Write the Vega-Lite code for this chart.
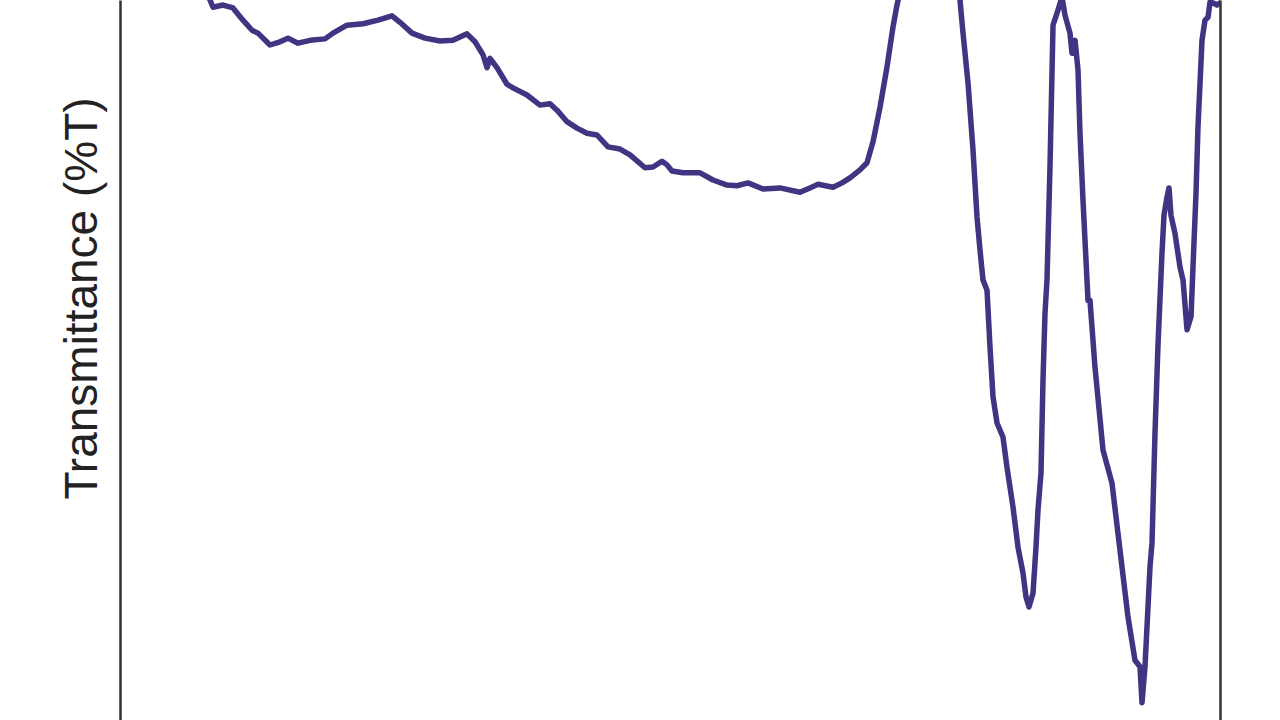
{
  "$schema": "https://vega.github.io/schema/vega-lite/v6.json",
  "width": 1100,
  "height": 720,
  "autosize": {"type": "none"},
  "padding": {"left": 120, "top": 0, "right": 60, "bottom": 0},
  "background": "white",
  "config": {"view": {"stroke": null}},
  "data": {"values": [
    {"wavenumber": 3754.5, "T": 105.6},
    {"wavenumber": 3705.5, "T": 100.0},
    {"wavenumber": 3695.6, "T": 99.0},
    {"wavenumber": 3662.9, "T": 99.3},
    {"wavenumber": 3630.2, "T": 98.9},
    {"wavenumber": 3597.5, "T": 97.2},
    {"wavenumber": 3568.0, "T": 95.8},
    {"wavenumber": 3548.4, "T": 95.4},
    {"wavenumber": 3509.1, "T": 93.75},
    {"wavenumber": 3476.4, "T": 94.2},
    {"wavenumber": 3450.2, "T": 94.7},
    {"wavenumber": 3417.5, "T": 94.0},
    {"wavenumber": 3378.2, "T": 94.4},
    {"wavenumber": 3329.1, "T": 94.6},
    {"wavenumber": 3302.9, "T": 95.4},
    {"wavenumber": 3257.1, "T": 96.5},
    {"wavenumber": 3204.7, "T": 96.7},
    {"wavenumber": 3155.6, "T": 97.2},
    {"wavenumber": 3109.8, "T": 97.8},
    {"wavenumber": 3083.6, "T": 96.9},
    {"wavenumber": 3044.4, "T": 95.4},
    {"wavenumber": 3001.8, "T": 94.7},
    {"wavenumber": 2952.7, "T": 94.3},
    {"wavenumber": 2910.2, "T": 94.4},
    {"wavenumber": 2864.4, "T": 95.3},
    {"wavenumber": 2838.2, "T": 94.2},
    {"wavenumber": 2812.0, "T": 92.4},
    {"wavenumber": 2798.9, "T": 90.6},
    {"wavenumber": 2789.1, "T": 91.9},
    {"wavenumber": 2766.2, "T": 90.6},
    {"wavenumber": 2733.5, "T": 88.3},
    {"wavenumber": 2713.8, "T": 87.8},
    {"wavenumber": 2668.0, "T": 86.8},
    {"wavenumber": 2625.5, "T": 85.4},
    {"wavenumber": 2592.7, "T": 85.6},
    {"wavenumber": 2569.8, "T": 84.7},
    {"wavenumber": 2537.1, "T": 83.1},
    {"wavenumber": 2504.4, "T": 82.2},
    {"wavenumber": 2471.6, "T": 81.5},
    {"wavenumber": 2438.9, "T": 81.25},
    {"wavenumber": 2402.9, "T": 79.6},
    {"wavenumber": 2363.6, "T": 79.3},
    {"wavenumber": 2330.9, "T": 78.5},
    {"wavenumber": 2281.8, "T": 76.7},
    {"wavenumber": 2255.6, "T": 76.8},
    {"wavenumber": 2226.2, "T": 77.6},
    {"wavenumber": 2209.8, "T": 77.1},
    {"wavenumber": 2193.5, "T": 76.25},
    {"wavenumber": 2157.5, "T": 76.0},
    {"wavenumber": 2101.8, "T": 76.0},
    {"wavenumber": 2059.3, "T": 75.0},
    {"wavenumber": 2013.5, "T": 74.3},
    {"wavenumber": 1980.7, "T": 74.2},
    {"wavenumber": 1944.7, "T": 74.6},
    {"wavenumber": 1895.6, "T": 73.75},
    {"wavenumber": 1840.0, "T": 73.9},
    {"wavenumber": 1774.5, "T": 73.3},
    {"wavenumber": 1741.8, "T": 73.9},
    {"wavenumber": 1715.6, "T": 74.4},
    {"wavenumber": 1666.5, "T": 74.0},
    {"wavenumber": 1637.1, "T": 74.6},
    {"wavenumber": 1610.9, "T": 75.3},
    {"wavenumber": 1578.2, "T": 76.4},
    {"wavenumber": 1555.3, "T": 77.4},
    {"wavenumber": 1535.6, "T": 80.3},
    {"wavenumber": 1512.7, "T": 85.1},
    {"wavenumber": 1489.8, "T": 90.7},
    {"wavenumber": 1470.2, "T": 96.25},
    {"wavenumber": 1457.1, "T": 99.3},
    {"wavenumber": 1430.9, "T": 104.2},
    {"wavenumber": 1267.3, "T": 104.2},
    {"wavenumber": 1250.9, "T": 100.0},
    {"wavenumber": 1241.1, "T": 95.4},
    {"wavenumber": 1224.7, "T": 88.5},
    {"wavenumber": 1208.4, "T": 79.2},
    {"wavenumber": 1195.3, "T": 69.9},
    {"wavenumber": 1185.5, "T": 65.3},
    {"wavenumber": 1175.6, "T": 61.1},
    {"wavenumber": 1162.5, "T": 59.7},
    {"wavenumber": 1152.7, "T": 51.8},
    {"wavenumber": 1142.9, "T": 44.9},
    {"wavenumber": 1129.8, "T": 41.25},
    {"wavenumber": 1110.2, "T": 39.3},
    {"wavenumber": 1097.1, "T": 35.1},
    {"wavenumber": 1077.5, "T": 29.6},
    {"wavenumber": 1061.1, "T": 24.0},
    {"wavenumber": 1044.7, "T": 20.4},
    {"wavenumber": 1034.9, "T": 17.1},
    {"wavenumber": 1025.1, "T": 15.7},
    {"wavenumber": 1012.0, "T": 17.6},
    {"wavenumber": 1002.2, "T": 24.0},
    {"wavenumber": 995.6, "T": 29.2},
    {"wavenumber": 985.8, "T": 34.3},
    {"wavenumber": 979.3, "T": 47.2},
    {"wavenumber": 972.7, "T": 56.5},
    {"wavenumber": 966.2, "T": 61.1},
    {"wavenumber": 956.4, "T": 76.8},
    {"wavenumber": 946.5, "T": 96.5},
    {"wavenumber": 930.2, "T": 98.6},
    {"wavenumber": 917.1, "T": 100.4},
    {"wavenumber": 907.3, "T": 97.9},
    {"wavenumber": 890.9, "T": 95.4},
    {"wavenumber": 884.4, "T": 92.6},
    {"wavenumber": 874.5, "T": 94.4},
    {"wavenumber": 864.7, "T": 90.3},
    {"wavenumber": 858.2, "T": 81.5},
    {"wavenumber": 848.4, "T": 72.2},
    {"wavenumber": 832.0, "T": 58.3},
    {"wavenumber": 825.5, "T": 58.3},
    {"wavenumber": 809.1, "T": 49.0},
    {"wavenumber": 782.9, "T": 37.5},
    {"wavenumber": 753.5, "T": 32.9},
    {"wavenumber": 727.3, "T": 23.6},
    {"wavenumber": 701.1, "T": 14.3},
    {"wavenumber": 678.2, "T": 8.3},
    {"wavenumber": 661.8, "T": 7.4},
    {"wavenumber": 655.3, "T": 2.4},
    {"wavenumber": 645.5, "T": 7.4},
    {"wavenumber": 629.1, "T": 21.25},
    {"wavenumber": 622.5, "T": 24.6},
    {"wavenumber": 612.7, "T": 39.9},
    {"wavenumber": 602.9, "T": 52.1},
    {"wavenumber": 589.8, "T": 64.9},
    {"wavenumber": 583.3, "T": 70.1},
    {"wavenumber": 573.5, "T": 72.6},
    {"wavenumber": 566.9, "T": 73.9},
    {"wavenumber": 560.4, "T": 70.1},
    {"wavenumber": 547.3, "T": 67.6},
    {"wavenumber": 530.9, "T": 62.9},
    {"wavenumber": 521.0, "T": 61.1},
    {"wavenumber": 507.9, "T": 54.2},
    {"wavenumber": 494.9, "T": 56.0},
    {"wavenumber": 488.4, "T": 62.9},
    {"wavenumber": 478.5, "T": 73.2},
    {"wavenumber": 472.0, "T": 82.4},
    {"wavenumber": 458.9, "T": 94.4},
    {"wavenumber": 449.1, "T": 97.2},
    {"wavenumber": 439.3, "T": 97.6},
    {"wavenumber": 432.7, "T": 99.7},
    {"wavenumber": 422.9, "T": 99.6},
    {"wavenumber": 409.8, "T": 99.3},
    {"wavenumber": 400.0, "T": 99.6}
  ]},
  "layer": [
    {
      "mark": {"type": "line", "color": "#3f3582", "strokeWidth": 5.5, "clip": true, "strokeJoin": "round", "strokeCap": "round"},
      "encoding": {
        "x": {"field": "wavenumber", "type": "quantitative", "scale": {"domain": [4000, 400], "nice": false, "zero": false}, "axis": null},
        "y": {"field": "T", "type": "quantitative", "scale": {"domain": [0, 100], "nice": false, "zero": false},
          "axis": {"title": "Transmittance (%T)", "orient": "left", "domain": true, "domainColor": "#333333", "domainWidth": 2.5, "ticks": false, "labels": false, "grid": false,
            "titleFontSize": 46, "titleFont": "Liberation Sans", "titleFontWeight": "normal", "titleColor": "#222222",
            "titleAngle": -90, "titleBaseline": "alphabetic", "titleAlign": "center", "titleX": -24, "titleY": 298}}
      }
    },
    {
      "mark": {"type": "line", "strokeOpacity": 0, "clip": true},
      "encoding": {
        "x": {"field": "wavenumber", "type": "quantitative", "scale": {"domain": [4000, 400], "nice": false, "zero": false}, "axis": null},
        "y": {"field": "T", "type": "quantitative", "scale": {"domain": [0, 100], "nice": false, "zero": false},
          "axis": {"title": null, "orient": "right", "domain": true, "domainColor": "#333333", "domainWidth": 2.5, "ticks": false, "labels": false, "grid": false}}
      }
    }
  ],
  "resolve": {"axis": {"y": "independent"}}
}
